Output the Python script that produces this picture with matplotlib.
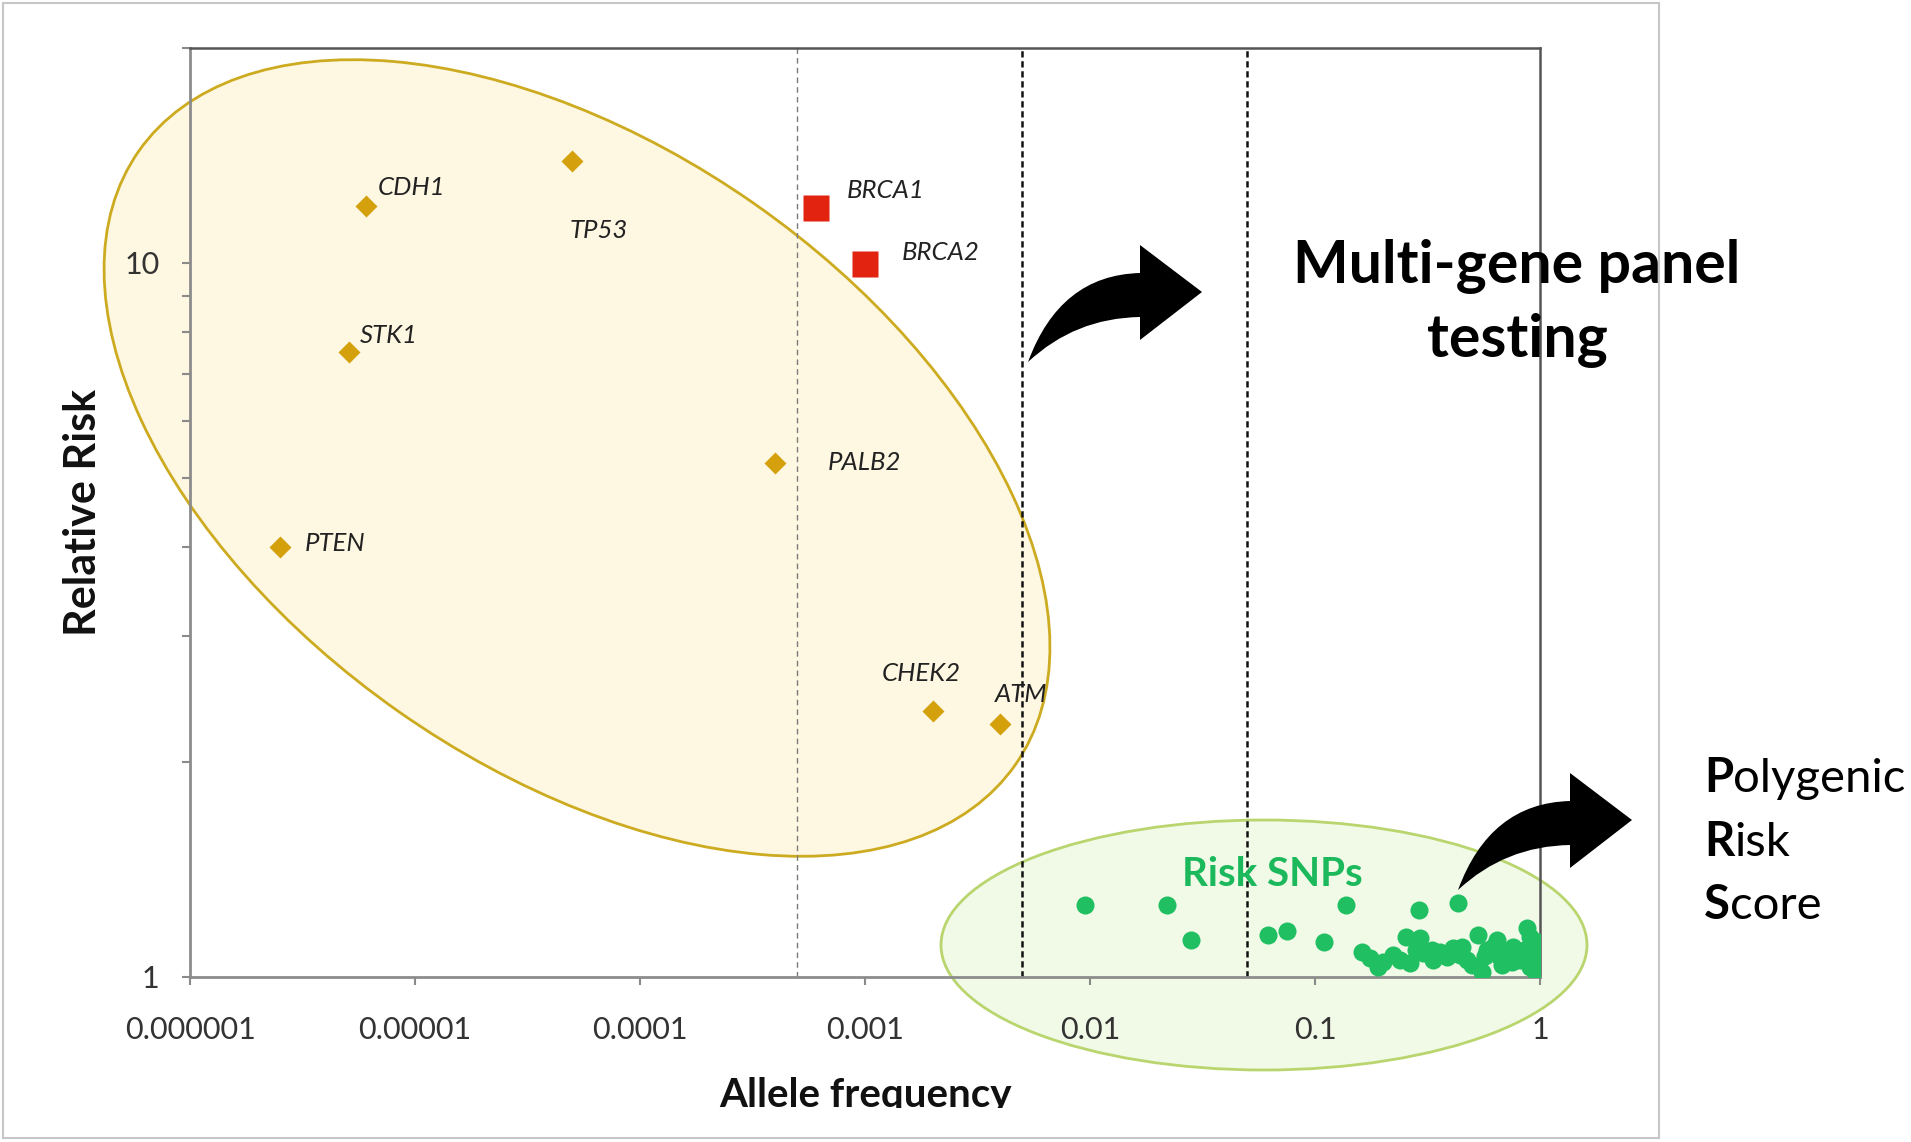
import matplotlib
matplotlib.use("Agg")
import matplotlib.pyplot as plt
from matplotlib.patches import Ellipse, Rectangle, PathPatch
from matplotlib.path import Path
from matplotlib.ticker import LogLocator, NullFormatter, NullLocator

W, H, DPI = 1911, 1142, 100

# moderate/high penetrance genes (gold diamonds)
genes = ["CDH1", "TP53", "STK1", "PTEN", "PALB2", "CHEK2", "ATM"]
gene_freq = [6.05e-6, 5.0e-5, 5.1e-6, 2.5e-6, 4.0e-4, 2.0e-3, 4.0e-3]
gene_rr = [12.0, 13.9, 7.5, 4.0, 5.25, 2.36, 2.26]
gene_offsets = [(46, 19), (26, -70), (40, 17), (56, 4), (89, 0), (-11, 37), (21, 30)]

# BRCA genes (red squares)
brca = ["BRCA1", "BRCA2"]
brca_freq = [6.05e-4, 1.0e-3]
brca_rr = [11.95, 9.96]
brca_offsets = [(70, 17), (76, 12)]

# common risk SNPs (green dots)
snp_freq = [0.0095, 0.022, 0.028, 0.062, 0.075, 0.11, 0.138, 0.29, 0.43,
            0.161, 0.175, 0.191, 0.2, 0.223, 0.239, 0.255, 0.264, 0.28, 0.293,
            0.303, 0.33, 0.336, 0.36, 0.385, 0.412, 0.441, 0.45, 0.472, 0.5,
            0.532, 0.55, 0.57, 0.579, 0.62, 0.641, 0.664, 0.68, 0.711, 0.75,
            0.761, 0.815, 0.85, 0.873, 0.904, 0.904, 0.934, 0.95, 0.966, 0.98]
snp_rr = [1.26, 1.26, 1.127, 1.145, 1.161, 1.12, 1.26, 1.24, 1.27,
          1.085, 1.062, 1.034, 1.05, 1.073, 1.056, 1.139, 1.045, 1.09, 1.133,
          1.079, 1.09, 1.056, 1.085, 1.068, 1.097, 1.073, 1.10, 1.056, 1.04,
          1.145, 1.017, 1.07, 1.091, 1.10, 1.126, 1.068, 1.04, 1.079, 1.05,
          1.102, 1.056, 1.09, 1.17, 1.139, 1.034, 1.091, 1.02, 1.068, 1.12]

cutoffs = [0.0005, 0.005, 0.05]

xticks = [1e-6, 1e-5, 1e-4, 1e-3, 1e-2, 1e-1, 1]
xtick_labels = ["0.000001", "0.00001", "0.0001", "0.001", "0.01", "0.1", "1"]
yticks = [1, 10]
ytick_labels = ["1", "10"]

plt.rcParams["font.family"] = ["Lato", "DejaVu Sans"]

fig = plt.figure(figsize=(W / DPI, H / DPI), dpi=DPI)
fig.patch.set_facecolor("white")

# pixel-space layers behind and in front of the chart
bg = fig.add_axes([0, 0, 1, 1], zorder=0)
fg = fig.add_axes([0, 0, 1, 1], zorder=2)
for layer in (bg, fg):
    layer.set_xlim(0, W)
    layer.set_ylim(H, 0)
    layer.axis("off")

bg.add_patch(Rectangle((3, 3), 1656, 1135, fill=False, ec="#c6c6c6", lw=1.5))
bg.add_patch(Ellipse((577, 458), 1070, 620, angle=35,
                     fc="#fef7e1", ec="#cdab20", lw=2))
bg.add_patch(Ellipse((1264, 945), 646, 250, fc="#f1f9e7", ec="#b9d56e", lw=2))

ax = fig.add_axes([190 / W, 1 - 977 / H, 1350 / W, 929 / H], zorder=1)
ax.set_facecolor("none")
ax.set_xscale("log")
ax.set_yscale("log")
ax.set_xlim(1e-6, 1)
ax.set_ylim(1, 20)

ax.axvline(cutoffs[0], color="#7a7a7a", lw=1.0, ls=(0, (4, 3)), zorder=1)
for c in cutoffs[1:]:
    ax.axvline(c, color="#111111", lw=1.8, ls=(0, (2.5, 1.5)), zorder=1)

ax.plot(gene_freq, gene_rr, ls="none", marker="D", ms=11,
        color="#d4a10c", mec="none", zorder=3)
ax.plot(brca_freq, brca_rr, ls="none", marker="s", ms=18.5,
        color="#e1230f", mec="none", zorder=3)
ax.plot(snp_freq, snp_rr, ls="none", marker="o", ms=13,
        color="#1fbf62", mec="none", zorder=3)

for name, x, y, off in zip(genes + brca, gene_freq + brca_freq,
                           gene_rr + brca_rr, gene_offsets + brca_offsets):
    ax.annotate(name, (x, y), xytext=off, textcoords="offset pixels",
                ha="center", va="center", fontsize=18.5, style="italic",
                color="#222222", zorder=4)

ax.set_xticks(xticks, xtick_labels)
ax.xaxis.set_minor_locator(NullLocator())
ax.set_yticks(yticks, ytick_labels)
ax.yaxis.set_minor_locator(LogLocator(base=10, subs=range(2, 10)))
ax.yaxis.set_minor_formatter(NullFormatter())
ax.tick_params(axis="x", which="major", direction="out", length=6, width=1.5,
               color="#8a8a8a", labelsize=22, labelcolor="#333333", pad=22)
ax.tick_params(axis="y", which="both", direction="out", length=6, width=1.5,
               color="#8a8a8a", labelsize=22, labelcolor="#333333", pad=16)
for side in ("left", "bottom"):
    ax.spines[side].set_color("#8c8c8c")
    ax.spines[side].set_linewidth(2)
for side in ("top", "right"):
    ax.spines[side].set_color("#555555")
    ax.spines[side].set_linewidth(1.8)

# axis titles (the x title is cut at its baseline in the original)
fg.text(83, 512, "Relative Risk", rotation=90, ha="center", va="center",
        fontsize=31, fontweight="bold", color="#111111")
xt = fg.text(865, 1107, "Allele frequency", ha="center", va="baseline",
             fontsize=29, fontweight="bold", color="#111111", clip_on=True)
xt.set_clip_path(Rectangle((0, 0), W, 1108, transform=fg.transData))

fg.text(1272, 874, "Risk SNPs", ha="center", va="center", fontsize=29,
        fontweight="bold", color="#1cb85c")

fg.text(1517, 266, "Multi-gene panel", ha="center", va="center",
        fontsize=42.5, fontweight="bold", color="black")
fg.text(1517, 341, "testing", ha="center", va="center",
        fontsize=42.5, fontweight="bold", color="black")

for (first, rest), base in zip([("P", "olygenic"), ("R", "isk"), ("S", "core")],
                               [792, 856, 919]):
    t = fg.text(1704, base, first, ha="left", va="baseline", fontsize=34,
                fontweight="bold", color="black")
    fg.annotate(rest, xy=(1, 0), xycoords=t, ha="left", va="bottom",
                fontsize=34, color="black")


def curved_arrow(tx, ty):
    verts = [(0, 0), (32, -87), (112, -89), (112, -117), (174, -70),
             (112, -22), (112, -45), (47, -44), (0, 0), (0, 0)]
    codes = [Path.MOVETO, Path.CURVE3, Path.CURVE3, Path.LINETO, Path.LINETO,
             Path.LINETO, Path.LINETO, Path.CURVE3, Path.CURVE3, Path.CLOSEPOLY]
    verts = [(tx + vx, ty + vy) for vx, vy in verts]
    return PathPatch(Path(verts, codes), fc="black", ec="none")


fg.add_patch(curved_arrow(1028, 362))
fg.add_patch(curved_arrow(1458, 890))

fig.savefig("out.png", dpi=DPI)
